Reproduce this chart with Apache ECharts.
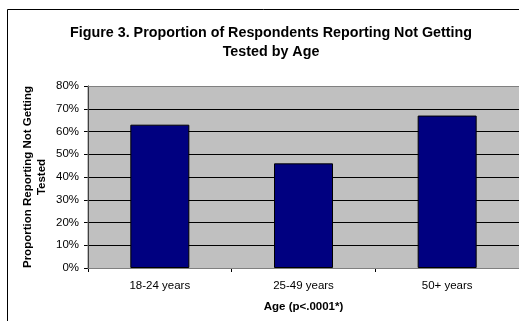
<!DOCTYPE html>
<html>
<head>
<meta charset="utf-8">
<script src="https://cdn.jsdelivr.net/npm/echarts@6/dist/echarts.min.js"></script>
<style>
  html, body { margin: 0; padding: 0; background: #fff; }
  #chart { width: 519px; height: 321px; }
</style>
</head>
<body>
<div id="chart"></div>
<script>
const categories = ['18-24 years', '25-49 years', '50+ years'];
const values = [0.63, 0.46, 0.67];
const yTicks = [0, 0.1, 0.2, 0.3, 0.4, 0.5, 0.6, 0.7, 0.8];

const chart = echarts.init(document.getElementById('chart'));
const font = 'Liberation Sans, Arial, sans-serif';

chart.setOption({
  animation: false,
  backgroundColor: '#fff',
  graphic: [
    {
      type: 'rect',
      shape: { x: 7.5, y: 9.5, width: 700, height: 500 },
      style: { fill: 'none', stroke: '#000', lineWidth: 1 },
      silent: true, z: 0
    },
    {
      type: 'rect',
      shape: { x: 88, y: 86.5, width: 500, height: 182 },
      style: { fill: 'none', stroke: '#808080', lineWidth: 1 },
      silent: true, z: 1
    }
  ],
  title: {
    text: 'Figure 3. Proportion of Respondents Reporting Not Getting\nTested by Age',
    left: 266, top: 19, textAlign: 'center',
    textStyle: { fontFamily: font, fontSize: 14.3, fontWeight: 'bold', color: '#000', lineHeight: 19 }
  },
  grid: {
    left: 88, top: 86, right: -6, bottom: 53,
    show: true, backgroundColor: '#c0c0c0', borderWidth: 0
  },
  xAxis: {
    type: 'category',
    data: categories,
    name: 'Age (p<.0001*)',
    nameLocation: 'middle',
    nameGap: 33,
    nameTextStyle: { fontFamily: font, fontSize: 11.5, fontWeight: 'bold', color: '#000' },
    axisLine: { lineStyle: { color: '#000', width: 1 } },
    axisTick: { show: true, length: 4, lineStyle: { color: '#000' } },
    axisLabel: { fontFamily: font, fontSize: 11.5, color: '#000', margin: 12 },
    splitLine: { show: false }
  },
  yAxis: {
    type: 'value',
    min: 0, max: yTicks[yTicks.length - 1], interval: 0.1,
    name: 'Proportion Reporting Not Getting\nTested',
    nameLocation: 'middle',
    nameGap: 39,
    nameMoveOverlap: false,
    nameTextStyle: { fontFamily: font, fontSize: 11.5, fontWeight: 'bold', color: '#000', lineHeight: 14 },
    axisLine: { show: true, lineStyle: { color: '#000', width: 1 } },
    axisTick: { show: true, length: 4, inside: false, lineStyle: { color: '#000' } },
    axisLabel: {
      fontFamily: font, fontSize: 11.5, color: '#000', margin: 9,
      formatter: v => Math.round(v * 100) + '%'
    },
    splitLine: { show: true, lineStyle: { color: '#000', width: 1 } }
  },
  series: [{
    type: 'bar',
    data: values,
    barWidth: 59,
    itemStyle: { color: '#000080', borderColor: '#000', borderWidth: 1 }
  }]
});
</script>
</body>
</html>
